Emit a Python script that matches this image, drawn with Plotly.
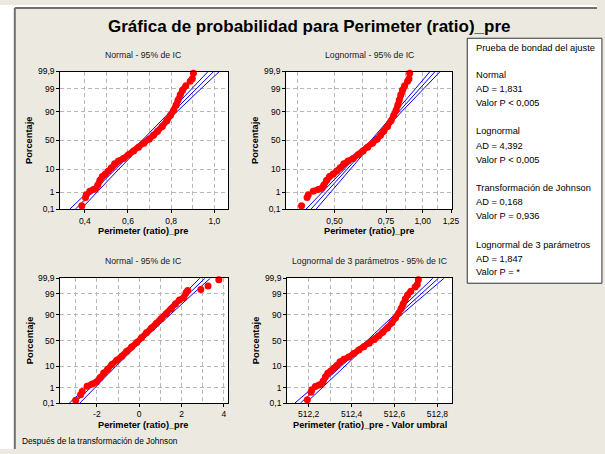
import math
from statistics import NormalDist
import plotly.graph_objects as go

W, H = 605, 454
ND = NormalDist()


def zscore(p):
    return ND.inv_cdf(p / 100.0)


# ---------------- data ----------------
perimeter_values = [0.386, 0.403, 0.407, 0.423, 0.440, 0.452, 0.460, 0.470, 0.481, 0.495,
                    0.509, 0.523, 0.538, 0.556, 0.579, 0.602, 0.626, 0.649, 0.674, 0.698,
                    0.718, 0.737, 0.759, 0.780, 0.797, 0.812, 0.823, 0.832, 0.842, 0.853,
                    0.868, 0.888, 0.898, 0.903]
perimeter_percent = [0.17, 0.52, 0.75, 1.15, 1.4, 1.6, 2.3, 3.7, 5.3, 6.6,
                     8.5, 11, 14.8, 17.8, 21, 26, 32, 38, 44.8, 52,
                     59, 66, 73.5, 81, 87, 91.2, 94.4, 96.5, 98.0, 98.8,
                     99.28, 99.6, 99.72, 99.87]

johnson_values = [-3.00, -2.77, -2.69, -2.46, -2.22, -2.02, -1.84, -1.68, -1.49, -1.29,
                  -1.06, -0.82, -0.59, -0.36, -0.12, 0.11, 0.34, 0.58, 0.81, 1.04,
                  1.28, 1.51, 1.71, 1.90, 2.10, 2.21, 2.29, 2.91, 3.25, 3.76]
johnson_percent = [0.16, 0.37, 0.59, 1.2, 1.6, 2.0, 3.4, 5.4, 7.8, 11.9,
                   16.6, 22, 29.8, 37.4, 46, 55.8, 65, 73.5, 80, 86,
                   90.7, 94.1, 96.5, 97.8, 98.3, 99.1, 99.35, 99.43, 99.65, 99.87]

threshold_3p = -511.808  # Valor umbral (lognormal de 3 parámetros)

# fitted lines and 95% confidence bands, at these percentages
fit_percent = [0.1, 1, 10, 50, 90, 99, 99.9]
normal_fit = [0.355, 0.434, 0.543, 0.676, 0.809, 0.918, 0.997]
normal_lo = [0.329, 0.413, 0.528, 0.665, 0.794, 0.897, 0.971]
normal_hi = [0.381, 0.455, 0.558, 0.687, 0.824, 0.939, 1.023]

lognormal_fit = [0.415, 0.469, 0.553, 0.677, 0.829, 0.977, 1.103]
lognormal_lo = [0.399, 0.454, 0.541, 0.666, 0.811, 0.946, 1.060]
lognormal_hi = [0.432, 0.484, 0.565, 0.688, 0.847, 1.009, 1.148]

johnson_fit = [-3.051, -2.289, -1.248, 0.030, 1.308, 2.349, 3.111]
johnson_lo = [-3.30, -2.49, -1.39, -0.074, 1.168, 2.149, 2.861]
johnson_hi = [-2.80, -2.09, -1.11, 0.134, 1.448, 2.549, 3.361]

logn3_fit = [512.162, 512.242, 512.350, 512.4835, 512.617, 512.725, 512.805]
logn3_lo = [512.136, 512.221, 512.335, 512.4725, 512.602, 512.704, 512.779]
logn3_hi = [512.188, 512.263, 512.365, 512.4945, 512.632, 512.746, 512.831]

prob_ticks = [0.1, 1, 10, 50, 90, 99, 99.9]
prob_labels = ["0,1", "1", "10", "50", "90", "99", "99,9"]

legend_lines = [
    ("Prueba de bondad del ajuste", 43.5),
    ("Normal", 71.7), ("AD = 1,831", 86), ("Valor P &lt; 0,005", 100),
    ("Lognormal", 129.3), ("AD = 4,392", 144), ("Valor P &lt; 0,005", 158),
    ("Transformación de Johnson", 187.3), ("AD = 0,168", 201.7), ("Valor P = 0,936", 216),
    ("Lognormal de 3 parámetros", 245.7), ("AD = 1,847", 259.5), ("Valor P = *", 273.5),
]

# ---------------- layout helpers ----------------
FONT = "Liberation Sans"
BLUE = "#0000FF"
RED = "#FF0000"
GRID = "#B8B8B8"


def fx(px):
    return px / W


def fy(py):
    return 1 - py / H


panels = [
    dict(n="", dom_x=(61, 231), dom_y=(68, 209),
         xvals=perimeter_values, yp=perimeter_percent, seg=(3, 31),
         fit=(normal_lo, normal_fit, normal_hi),
         xtype="linear", xrange=[0.286, 1.063],
         ticks=[0.4, 0.6, 0.8, 1.0], ticktext=["0,4", "0,6", "0,8", "1,0"],
         minor=[0.5, 0.7, 0.9],
         title="Normal - 95% de IC", xtitle="Perimeter (ratio)_pre"),
    dict(n="2", dom_x=(290, 458), dom_y=(68, 209),
         xvals=perimeter_values, yp=perimeter_percent, seg=(3, 31),
         fit=(lognormal_lo, lognormal_fit, lognormal_hi),
         xtype="log", xrange=[math.log10(0.342), math.log10(1.259)],
         ticks=[0.5, 0.75, 1.0, 1.25], ticktext=["0,50", "0,75", "1,00", "1,25"],
         minor=[0.375, 0.625, 0.875, 1.125],
         title="Lognormal - 95% de IC", xtitle="Perimeter (ratio)_pre"),
    dict(n="3", dom_x=(61, 231), dom_y=(279.3, 407),
         xvals=johnson_values, yp=johnson_percent, seg=(3, 27),
         fit=(johnson_lo, johnson_fit, johnson_hi),
         xtype="linear", xrange=[-3.73, 4.19],
         ticks=[-2, 0, 2, 4], ticktext=["-2", "0", "2", "4"],
         minor=[-3, -1, 1, 3],
         title="Normal - 95% de IC", xtitle="Perimeter (ratio)_pre"),
    dict(n="4", dom_x=(291, 458), dom_y=(279.3, 407),
         xvals=[v - threshold_3p for v in perimeter_values], yp=perimeter_percent, seg=(3, 31),
         fit=(logn3_lo, logn3_fit, logn3_hi),
         xtype="linear", xrange=[512.100, 512.8675],
         ticks=[512.2, 512.4, 512.6, 512.8], ticktext=["512,2", "512,4", "512,6", "512,8"],
         minor=[512.3, 512.5, 512.7],
         title="Lognormal de 3 parámetros - 95% de IC",
         xtitle="Perimeter (ratio)_pre - Valor umbral"),
]

fig = go.Figure()
layout_axes = {}
annotations = []
zlim = zscore(99.9)

for p in panels:
    xa = "x" + p["n"]
    ya = "y" + p["n"]
    fz = [zscore(v) for v in fit_percent]
    for line in p["fit"]:
        fig.add_trace(go.Scatter(x=line, y=fz, xaxis=xa, yaxis=ya, mode="lines",
                                 line=dict(color=BLUE, width=1), hoverinfo="skip",
                                 showlegend=False))
    yz = [zscore(v) for v in p["yp"]]
    a, b = p["seg"]
    fig.add_trace(go.Scatter(x=p["xvals"][a:b], y=yz[a:b], xaxis=xa, yaxis=ya, mode="lines",
                             line=dict(color=RED, width=6), showlegend=False,
                             hoverinfo="skip"))
    fig.add_trace(go.Scatter(x=p["xvals"], y=yz, xaxis=xa, yaxis=ya, mode="markers",
                             marker=dict(color=RED, size=7), cliponaxis=False,
                             showlegend=False))

    x0, x1 = p["dom_x"]
    y0, y1 = p["dom_y"]
    layout_axes["xaxis" + p["n"]] = dict(
        domain=[fx(x0), fx(x1)], anchor=ya, type=p["xtype"], range=p["xrange"],
        tickmode="array", tickvals=p["ticks"], ticktext=p["ticktext"],
        ticks="outside", ticklen=3, tickcolor="black",
        tickfont=dict(family=FONT, size=8.5, color="black"),
        showgrid=True, gridcolor=GRID, griddash="4px,3px", gridwidth=1,
        minor=dict(tickmode="array", tickvals=p["minor"], showgrid=True, gridcolor=GRID,
                   griddash="4px,3px", gridwidth=1, ticks=""),
        showline=True, mirror=True, linecolor="black", linewidth=1, zeroline=False,
    )
    layout_axes["yaxis" + p["n"]] = dict(
        domain=[fy(y1), fy(y0)], anchor=xa, range=[-zlim, zlim],
        tickmode="array", tickvals=[zscore(v) for v in prob_ticks], ticktext=prob_labels,
        ticks="outside", ticklen=3, tickcolor="black",
        tickfont=dict(family=FONT, size=8.5, color="black"),
        showgrid=True, gridcolor=GRID, griddash="4px,3px", gridwidth=1,
        showline=True, mirror=True, linecolor="black", linewidth=1, zeroline=False,
    )
    cx = (x0 + x1) / 2 + (-1 if p["n"] in ("", "3") else 0)
    cy = (y0 + y1) / 2
    top_title_y = 50.7 if y0 < 100 else 261.7
    xt_y = 230.7 if y0 < 100 else 429.3
    ylab_x = 30 if x0 < 100 else 259
    annotations += [
        dict(text=p["title"], x=fx(cx), y=fy(top_title_y), xref="paper", yref="paper",
             showarrow=False, xanchor="center", yanchor="middle",
             font=dict(family=FONT, size=8.7, color="#202020")),
        dict(text="<b>" + p["xtitle"] + "</b>", x=fx(cx), y=fy(xt_y), xref="paper",
             yref="paper", showarrow=False, xanchor="center", yanchor="middle",
             font=dict(family=FONT, size=9.2, color="black")),
        dict(text="<b>Porcentaje</b>", x=fx(ylab_x), y=fy(cy), xref="paper", yref="paper",
             showarrow=False, xanchor="center", yanchor="middle", textangle=-90,
             font=dict(family=FONT, size=9.3, color="black")),
    ]

annotations.append(dict(text="<b>Gráfica de probabilidad para Perimeter (ratio)_pre</b>",
                        x=fx(313), y=fy(22), xref="paper", yref="paper", showarrow=False,
                        xanchor="center", yanchor="middle",
                        font=dict(family=FONT, size=17, color="black")))
annotations.append(dict(text="Después de la transformación de Johnson", x=fx(20), y=fy(446),
                        xref="paper", yref="paper", showarrow=False, xanchor="left",
                        yanchor="middle", font=dict(family=FONT, size=8.3, color="black")))
for txt, yy in legend_lines:
    annotations.append(dict(text=txt, x=fx(480.5), y=fy(yy), xref="paper", yref="paper",
                            showarrow=False, xanchor="left", yanchor="middle",
                            font=dict(family=FONT, size=9.3, color="black")))

BEIGE = "#ECE9E0"
shapes = [
    # white margin outside the frame
    dict(type="rect", xref="paper", yref="paper", x0=0, x1=fx(15), y0=0, y1=1,
         fillcolor="white", line=dict(width=0), layer="below"),
    dict(type="rect", xref="paper", yref="paper", x0=0, x1=1, y0=fy(3), y1=1,
         fillcolor="white", line=dict(width=0), layer="below"),
    # frame lines
    dict(type="line", xref="paper", yref="paper", x0=fx(15), x1=fx(15), y0=0, y1=fy(3),
         line=dict(color="#707070", width=2), layer="below"),
    dict(type="line", xref="paper", yref="paper", x0=fx(15), x1=1, y0=fy(3), y1=fy(3),
         line=dict(color="#707070", width=2), layer="below"),
    # legend box
    dict(type="rect", xref="paper", yref="paper", x0=fx(473.5), x1=fx(610), y0=fy(284.5),
         y1=fy(34), fillcolor="white", line=dict(color="#303030", width=1), layer="below"),
]

fig.update_layout(
    width=W, height=H, autosize=False,
    margin=dict(l=0, r=0, t=0, b=0),
    paper_bgcolor=BEIGE, plot_bgcolor="white",
    showlegend=False,
    annotations=annotations,
    shapes=shapes,
    **layout_axes,
)

fig.write_html(
    "out.html",
    config={"displayModeBar": False},
    post_script="document.body.style.margin='0px';document.body.style.overflow='hidden';",
)
